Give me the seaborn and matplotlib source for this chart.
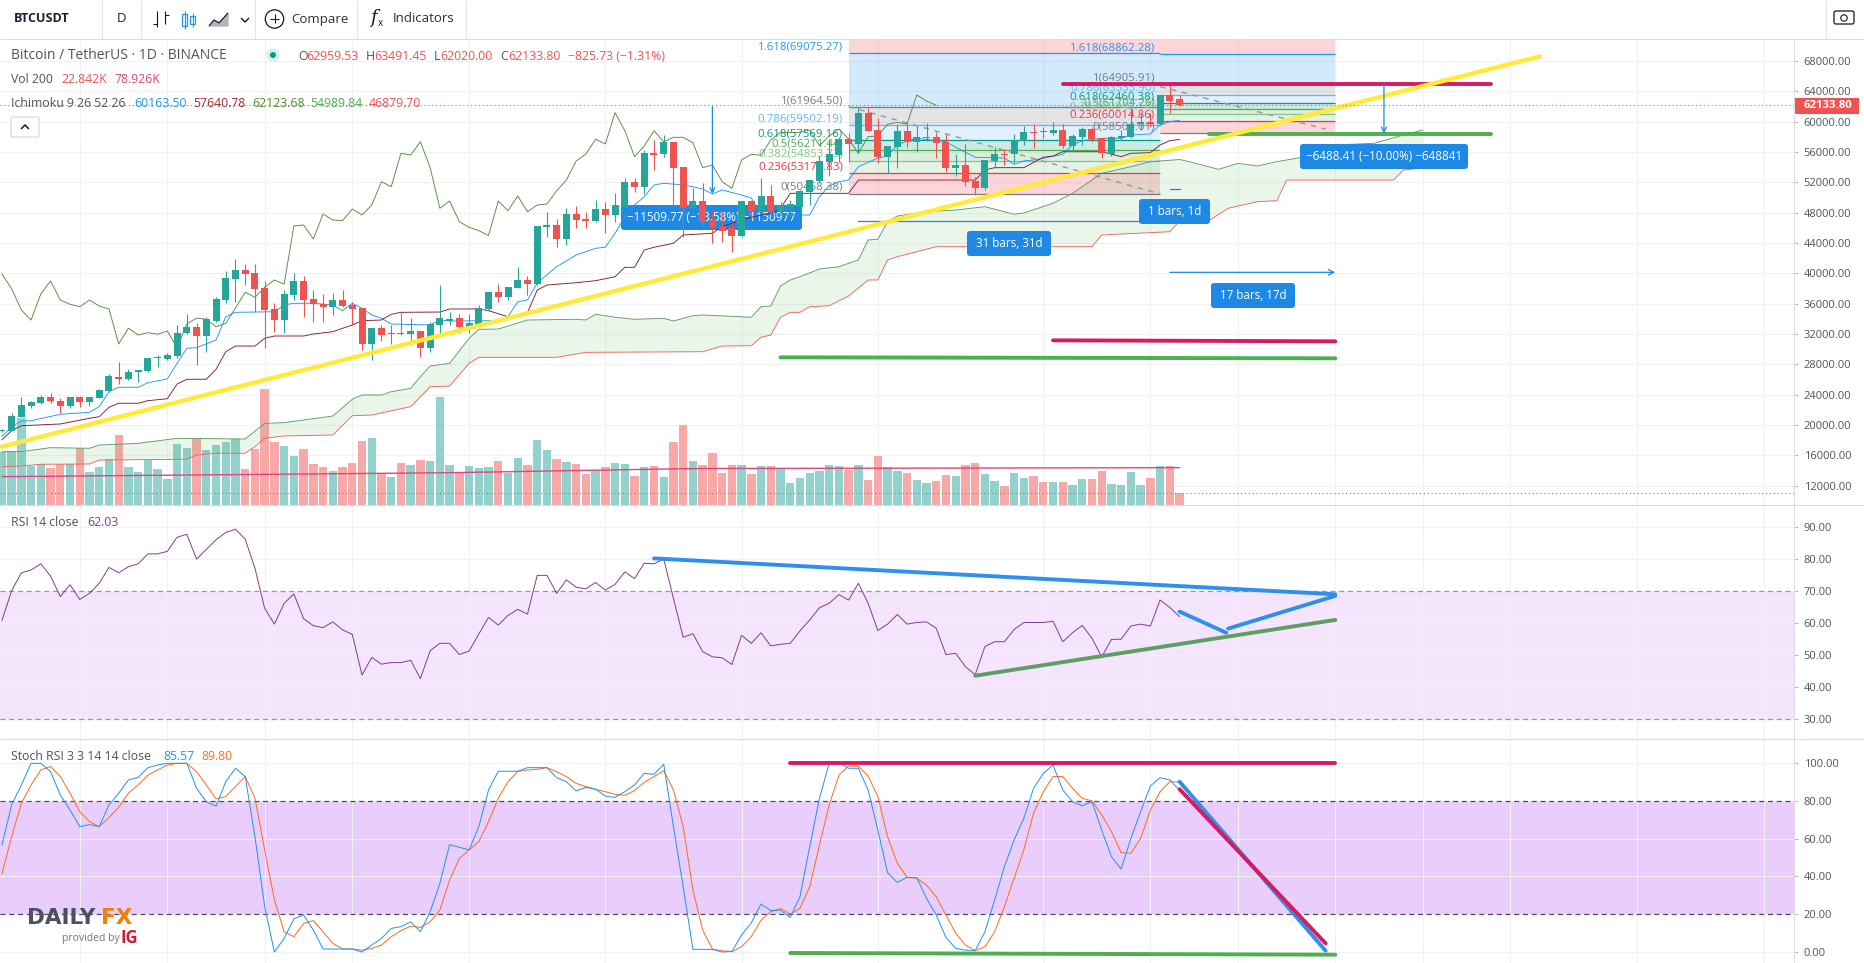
import numpy as np
import matplotlib
matplotlib.use("Agg")
import matplotlib.pyplot as plt
from matplotlib.patches import FancyBboxPatch, Circle, Rectangle
import seaborn as sns

# ---------- candles (thousand USDT) ----------
opens = [19.23,19.27,21.11,22.52,22.95,23.67,23.22,22.56,23.67,23.09,
23.61,24.53,26.38,26.08,26.96,27.17,28.8,28.71,29.1,32.09,
32.93,31.74,33.76,36.49,39.21,40.44,40.04,38.07,35.3,33.85,
37.14,38.99,36.58,35.96,35.6,36.49,35.83,35.43,30.69,32.76,
31.97,32.18,32.04,32.4,30.16,33.19,33.76,34.07,32.97,33.32,
35.3,37.5,36.84,38.07,39.12,38.59,46.06,46.37,44.52,47.81,
47.16,46.89,48.47,47.68,48.78,51.99,51.41,55.81,55.68,57.34,
53.97,48.57,49.53,47.03,46.27,45.93,44.96,49.53,48.12,50.19,
48.21,48.74,48.7,50.75,52.2,54.7,55.59,57.7,57.04,61.08,
58.88,55.37,56.68,58.75,57.34,57.79,57.92,57.34,53.92,54.27,
52.16,51.2,54.84,55.68,55.68,57.43,58.66,58.66,58.53,58.88,
56.81,58,59,57.79,55.72,57.79,58,59.63,59.9,59.67,
63.49,62.96]
highs = [19.5,21.56,23.67,23.22,23.97,24.19,23.53,23.67,23.84,23.67,
24.72,26.74,28.36,27.36,27.26,28.8,29.24,29.46,33.19,34.64,
33.41,34.2,36.84,40.34,41.89,41.23,41.23,38.99,36.09,37.8,
40.04,39.65,37.8,37.28,37.41,37.8,36.26,35.43,32.8,33.19,
33.19,34.73,34.07,32.4,33.63,38.46,34.94,34.64,34.64,35.83,
37.54,38.59,38.24,40.87,39.65,46.23,48.12,47.12,48.57,48.87,
48.12,49.66,49.44,50.54,52.52,52.52,56.25,57.56,58.22,57.34,
54.01,51.2,51.86,48.34,48.25,46.67,49.53,49.66,52.52,51.64,
49.4,49.66,50.98,52.29,55.46,57.66,58,58.45,61.96,61.74,
60.42,56.77,59.54,59.98,59.41,59.84,58.66,58.36,55.72,57.04,
52.73,54.93,56.6,56.38,58.36,59.41,59.67,59.32,59.98,59.67,
58.32,59.24,59.32,57.83,58.09,58.88,61.74,61.16,61.08,63.49,
64.81,63.49]
lows = [19.1,19.27,21.03,22.22,22.78,22.95,21.64,22.22,22.35,22.52,
23.53,24.4,25.42,25.94,25.72,27.04,27.62,28.58,28.8,31.97,
27.92,29.67,33.63,36.13,36.26,38.46,34.94,30.2,32.27,32.14,
36.49,34.28,33.63,33.63,34.51,35.6,33.19,29.9,28.58,31.12,
30.69,31.87,30.56,29.02,29.67,31.74,33.19,32.14,32.18,33.19,
35.08,36.26,36.49,38.07,37.14,38.46,44.82,43.51,43.73,45.93,
45.93,46.8,45.35,46.8,48.78,50.75,50.45,53.61,55.28,49,
44.82,47.68,46.37,43.96,44.17,42.85,44.82,47.46,47.95,47.95,
47.95,47.95,47.9,49,51.9,52.82,54.7,54.7,55.81,58.79,
54.49,53.18,53.88,56.68,56.02,57.43,55.23,53.39,52.86,51.54,
50.32,50.98,53.84,54.27,54.57,56.91,56.55,57.79,58.22,56.47,
56.02,56.91,57.26,55.23,55.46,57.56,57.79,58.88,59.32,59.54,
61.08,62.02]
closes = [19.36,21.2,22.6,23.05,23.67,23.22,22.56,23.67,23.09,23.67,
24.63,26.47,26.08,26.96,27.26,28.8,28.93,29.24,32.09,32.93,
31.74,33.94,36.62,39.38,40.44,39.91,37.97,35.17,33.85,37.28,
38.99,36.49,35.92,35.6,36.49,35.69,35.3,30.69,32.76,31.87,
32.18,31.97,32.4,30.2,33.32,34.11,33.94,32.97,33.41,35.43,
37.5,36.84,38.16,39.12,38.59,46.23,46.37,44.52,47.81,47.03,
46.93,48.47,47.68,49,52.07,51.41,55.81,55.59,57.34,53.92,
48.57,49.53,46.8,46.06,45.62,44.96,49.53,48.25,50.19,48.12,
49,49.13,50.88,52.29,54.8,55.72,57.66,57.04,61.16,58.79,
55.37,56.77,58.79,57.34,57.92,57.92,57.21,53.92,54.27,52.07,
51.2,54.93,55.68,55.55,57.56,58.58,58.53,58.58,58.88,56.81,
58.09,59,57.7,55.81,58,58.09,59.63,59.9,59.67,63.49,
62.7,62.13]

# ---------- volume (thousand) ----------
volume = [102,103,167,74,78,71,79,79,109,63,
73,88,134,73,63,86,69,50,117,109,
126,105,115,120,126,69,107,221,120,113,
94,107,79,73,65,73,81,122,128,60,
54,81,77,86,84,206,77,63,75,71,
73,84,61,90,77,124,105,88,82,79,
60,67,73,81,79,56,73,75,54,120,
153,84,77,100,61,77,77,60,75,75,
71,42,52,61,65,77,75,67,77,48,
94,73,65,61,48,42,46,58,56,77,
81,60,46,37,61,52,56,44,44,44,
39,50,50,65,41,39,63,39,52,75,
75,22.84]
vol_ma_bar = [0, 40, 46, 68, 72, 121]
vol_ma_val = [54.5, 61, 62, 69, 70, 71.6]

# ---------- Ichimoku (thousand USDT) ----------
tenkan_bar = [0,1,2,3,6,9,10,11,12,14,15,17,18,19,20,22,23,24,28,29,30,32,34,35,36,37,38,39,40,44,45,46,51,52,53,54,55,57,59,61,62,63,64,65,66,67,68,70,71,72,73,74,76,77,78,83,84,85,86,87,88,90,91,92,93,94,97,98,100,103,104,105,106,107,109,110,111,113,115,116,118,119,120,121]
tenkan_val = [18.47,19.79,20.54,20.58,21.43,21.69,22.43,24.4,24.98,24.98,25.59,26.08,28.14,30.12,30.2,31.2,34.28,34.86,34.94,35.83,36.05,36.05,35.83,35.08,36.05,35.39,34.51,34.07,33.32,33.19,33.85,33.72,33.76,34.28,36.26,36.49,38.73,40.87,42.41,43.3,43.43,45.27,47.46,49,50.09,51.64,51.86,51.64,51.41,51.11,50.45,50.98,50.32,49.92,47.68,47.68,50.09,51.5,52.07,52.29,54.05,55.19,55.46,56.91,57.43,57.79,57.34,56.6,55.29,55.19,54.36,54.8,54.93,55.15,55.68,56.91,57.47,57.79,57.79,58.22,58.36,59.54,59.98,60.16]
kijun_bar = [0,1,2,6,9,10,11,12,14,15,17,18,19,21,22,23,24,26,27,28,31,32,34,36,37,39,40,41,45,46,49,50,52,54,55,56,59,61,63,64,65,66,67,69,70,73,74,76,77,78,79,80,81,87,88,100,101,102,105,107,108,109,113,115,116,118,119,120,121]
kijun_val = [18.04,19.27,19.92,20.15,20.9,21.11,22.35,22.88,22.88,23.22,23.48,25.42,26.04,26.04,27.35,29.67,30.42,30.42,31.44,31.74,31.74,32,32.31,33.19,33.76,33.85,34.6,34.86,34.9,35.3,35.3,35.08,34.28,34.81,37.8,38.46,38.76,39.03,39.55,40.79,40.79,43.07,43.43,43.96,45.05,45.27,46.14,47.03,47.38,47.68,47.9,48.57,50.54,50.54,52.29,52.29,53.61,53.92,53.92,55.29,55.46,56.02,56.02,55.37,55.81,55.89,56.91,57.47,57.64]
span_a_bar = [0,2,5,9,10,14,18,25,27,29,34,36,37,39,40,42,43,44,46,48,49,51,54,59,60,61,63,65,68,69,71,72,77,78,79,80,81,82,84,86,87,88,89,90,91,92,95,98,101,104,105,108,110,111,113,116,118,121,122,125,127,129,131,134,137,141,144,146]
span_a_val = [16.5,16.5,17.03,16.95,17.38,17.6,18.26,18.17,20.24,20.32,21.2,23.4,23.97,23.97,24.4,24.85,26.38,27.79,28.14,31.44,32.62,32.66,33.85,33.94,33.85,34.6,34.21,33.94,34.07,33.72,34.42,34.51,34.21,35.6,35.69,38.33,39.12,39.55,40.57,40.87,41.32,41.76,44.39,44.48,46.8,47.55,48.12,48.34,48.78,47.78,47.95,49.23,50.54,51.41,53.18,54.05,54.71,54.99,54.71,53.7,54.49,54.14,54.71,55.37,56.91,57.13,58.22,58.88]
span_b_bar = [0,2,4,9,10,19,20,22,25,26,27,29,34,36,38,42,44,46,48,49,57,60,72,74,77,78,79,80,81,82,83,85,87,89,90,91,92,96,112,113,120,121,124,126,129,131,132,143,144,146]
span_b_val = [14.52,14.61,14.84,14.88,15.4,15.5,16.06,16.29,16.29,17.16,18.26,18.57,18.7,21.24,21.33,22.43,25.06,25.15,28.14,28.93,28.93,29.59,29.67,30.42,30.46,31.57,31.87,34.21,34.86,34.86,35.6,35.73,37.01,39.12,39.12,41.76,42.19,43.51,43.51,45.05,45.48,46.88,46.93,48.57,49.44,49.57,52.29,52.29,53.61,53.88]

# ---------- oscillators ----------
rsi = [60.8,70.1,75.7,76.6,78.5,74.7,68.3,72,67.4,69.3,
72.4,77.4,75.7,77.6,78.5,81.6,81.6,82.4,86.8,87.7,
80,83,86,88.3,89.3,86.2,77.1,64.6,59.7,66.2,
69.1,61.4,59.2,58.6,60.4,57.9,56.5,43.8,49.3,47.2,
47.7,47.7,48.4,42.7,51.4,53.7,53.7,50.2,51.3,56.6,
61.8,59.4,62.4,64.3,62.8,74.9,74.9,69.3,73.5,71.2,
70.7,72.7,70.3,72.1,76,73.9,78.7,78.5,80,67.7,
55.6,56.7,51.1,49.5,49.2,47.1,56.2,53.7,57,52.9,
53.4,53.7,57.6,61,64.8,66.2,68.9,67.2,72.4,66.2,
57.7,59.7,62.7,59.7,60.2,60.4,58.4,50.2,50.6,46.4,
43.9,52.7,54.2,54.2,58,60.2,60.2,60.2,60.6,54.2,
57,59.3,55.3,49.5,54.9,55,59.1,59.7,59.1,67.2,
64.9,62.03]
stoch_k = [56.6,77.8,88.4,99.8,99.8,95.4,83.1,75.1,66.3,67.4,
66.3,77.8,84,91,92.4,97.5,98.9,99.8,99.8,99.8,
86.6,79.5,77.1,90.1,97.2,92.8,61,24,0,7.2,
17.6,19.6,11.6,1.6,1.6,1.6,1.6,0,3.7,7.2,
12.5,13.4,16,10.7,21.3,36.3,56.8,55.4,54,66.3,
85.7,95.6,95.6,95.6,97.5,97.5,97.5,92.2,90.1,85.2,
87.1,86.1,82.5,81.8,84.8,88.4,94.5,94,99.3,66.3,
34.5,1.4,1.4,1.4,0,0.3,9,15.5,25.4,21.9,
22.2,18.3,29.3,55.7,81.3,99.8,100,97.2,97.2,85.7,
64.5,42,36.8,39.5,39.3,28.4,19.6,7.7,1.9,1,
0.7,10.7,27.5,45.1,59.3,70.7,86.6,94.5,98.9,85.7,
79.5,77.4,79.5,64.5,50.4,43.9,60.1,74.2,87.8,92.2,
91,85.57]
stoch_d = [41.3,61,78.7,88.4,96.3,98.1,92.8,84,74.2,69,
66.3,71.2,76.5,84,88.4,93.6,96.3,98.9,99.8,99.8,
95.4,88.4,81,82.2,87.5,92.8,81.3,54,27.5,10.7,
8.1,15.1,16.6,10.7,4.6,1.6,1.6,1,1.9,3.7,
8.1,11.3,13.7,13,16,22.2,38.1,49.5,54,58.4,
69,81.3,90.1,95.4,96.3,96.6,97.5,95.4,92.8,89.2,
87.5,86.1,84.8,83.4,82.9,85.4,89.8,92.8,95.9,85.7,
66.3,32.8,11.6,1.6,0.7,0.2,2.8,8.1,16.9,21.3,
23.1,20.1,23.1,34.6,56.6,77.8,93.6,98.4,98.1,93.1,
82.2,61,46.9,39.5,39,35.4,29.2,19.6,9.9,3.7,
0.7,2.8,10.7,24,39,54,73.4,84.8,92.8,92.8,
86.6,81.3,79.9,72.5,63.7,52.6,52.2,60.1,75.1,84.8,
90.1,89.8]

# ---------- drawing tools ----------
fib_ratios = [1.618, 1, 0.786, 0.618, 0.5, 0.382, 0.236, 0]
fib_a_prices = [69075.27, 61964.50, 59502.19, 57569.16, 56211.44, 54853.73, 53173.83, 50458.38]
fib_b_prices = [68862.28, 64905.91, 63535.90, 62460.38, 61704.26, 60948.14, 60014.86, 58504.01]
fib_a_bars = [87, 119]
fib_b_bars = [119, 137]
fib_colors = ["#2196f3", "#787b86", "#64b5f6", "#089981", "#4caf50", "#81c784", "#f23645", "#787b86"]
fib_a_text_y = [46.7, 101, 118.7, 134, 144, 154, 166.7, 187.3]
fib_b_text_y = [47.7, 77.7, 88, 96.7, 102.7, 106.7, 115, 126.7]
hline_price_ticks = list(range(12000, 68001, 4000))
rsi_ticks = [30, 40, 50, 60, 70, 80, 90]
stoch_ticks = [0, 20, 40, 60, 80, 100]
grid_bars = [8, 17, 27, 36, 48, 62, 76, 90, 107, 118, 127, 137, 146, 155, 168, 181]

W, H = 1864, 963
AX_R = 1794
P_TOP, P_BOT, R_BOT = 38.7, 505.5, 739.5
XMIN, XMAX = -0.195, 184.13
GRID = "#eff1f4"
SEP = "#d8dce3"
GREEN, RED = "#26a69a", "#ef5350"
TXT = "#50535e"

sns.set_theme(style="white")
plt.rcParams["font.family"] = ["Open Sans", "DejaVu Sans"]
fig = plt.figure(figsize=(W / 100, H / 100), dpi=100, facecolor="white")


def pane(y0, y1, z):
    a = fig.add_axes([0, 1 - y1 / H, AX_R / W, (y1 - y0) / H], zorder=z)
    a.set_xlim(XMIN, XMAX)
    for s in a.spines.values():
        s.set_visible(False)
    return a


def line(a, x, y, color, lw=0.65, z=3, **kw):
    sns.lineplot(x=np.asarray(x, float), y=np.asarray(y, float), ax=a, color=color, linewidth=lw,
                 zorder=z, estimator=None, sort=False, legend=False, errorbar=None, **kw)


def finish(a, ylim, ticks, fmt="{:.2f}"):
    a.set_xlim(XMIN, XMAX)
    a.set_ylim(*ylim)
    a.set_xlabel("")
    a.set_ylabel("")
    a.set_xticks(grid_bars)
    a.set_xticklabels([])
    a.yaxis.tick_right()
    a.set_yticks(ticks)
    a.set_yticklabels([fmt.format(t) for t in ticks])
    a.tick_params(axis="y", length=3, width=0.7, color="#b2b5be", labelsize=8, labelcolor=TXT, pad=4, right=True)
    a.tick_params(axis="x", length=0)
    a.grid(True, color=GRID, linewidth=0.8)
    a.set_axisbelow(True)


price_lim = (9410, 70910)
bar_index = np.arange(len(closes))
O, Hi, Lo, C = [np.array(v) * 1000 for v in (opens, highs, lows, closes)]
up = C >= O

# grid layer
ax_grid = pane(P_TOP, P_BOT, 0)
finish(ax_grid, price_lim, hline_price_ticks)
ax_grid.tick_params(axis="y", labelright=False, length=0)

# volume layer
ax_vol = pane(P_TOP, P_BOT, 1)
ax_vol.patch.set_visible(False)
sns.barplot(x=bar_index, y=volume, hue=np.where(up, "up", "down"), ax=ax_vol, native_scale=True,
            palette={"up": "#93d2cc", "down": "#f8a9a7"}, dodge=False, width=0.86, saturation=1,
            errorbar=None, legend=False, linewidth=0)
line(ax_vol, vol_ma_bar, vol_ma_val, "#e0457f", lw=1.0, z=4)
ax_vol.axhline(volume[-1], color=RED, lw=0.8, ls=(0, (1, 2.5)), zorder=5)
ax_vol.set_xlim(XMIN, XMAX)
ax_vol.set_ylim(-0.4, 888)
ax_vol.set_xticks([])
ax_vol.set_yticks([])
ax_vol.set_xlabel("")
ax_vol.set_ylabel("")

# price layer
ax_p = pane(P_TOP, P_BOT, 2)
ax_p.patch.set_visible(False)

# UI overlay (pixel coordinates)
ax_ui = fig.add_axes([0, 0, 1, 1], zorder=10)
ax_ui.set_xlim(0, W)
ax_ui.set_ylim(H, 0)
ax_ui.axis("off")
ax_ui.patch.set_visible(False)


def box(a, x0, y0, x1, y1, text, z=8):
    a.add_patch(FancyBboxPatch((x0, y0), x1 - x0, y1 - y0, boxstyle="round,pad=0,rounding_size=3",
                               fc="#1e88e5", ec="none", transform=ax_ui.transData, zorder=z, clip_on=False))
    a.text((x0 + x1) / 2, (y0 + y1) / 2, text, color="white", fontsize=8.4, ha="center", va="center",
           transform=ax_ui.transData, zorder=z + 0.1, clip_on=False)


# fib backgrounds
def fib(a_bars, prices, colors):
    xs = a_bars
    ax_p.fill_between(xs, [prices[0]] * 2, [price_lim[1]] * 2, color="#f23645", alpha=0.2, lw=0, zorder=1)
    for k in range(len(prices) - 1):
        ax_p.fill_between(xs, [prices[k + 1]] * 2, [prices[k]] * 2, color=colors[k], alpha=0.2, lw=0, zorder=1)
    for p, c in zip(prices, colors):
        ax_p.hlines(p, xs[0], xs[1], color=c, lw=0.9, zorder=1.5)


fib(fib_a_bars, fib_a_prices, fib_colors)
fib(fib_b_bars, fib_b_prices, fib_colors)
line(ax_p, fib_a_bars, [fib_a_prices[1], fib_a_prices[-1]], "#9598a1", lw=1, z=1.6, linestyle=(0, (4, 4)))
line(ax_p, fib_b_bars[0:1] + [136], [64600, 59000], "#9598a1", lw=1, z=1.6, linestyle=(0, (4, 4)))

for r, p, c, ty in zip(fib_ratios, fib_a_prices, fib_colors, fib_a_text_y):
    ax_p.text(843, ty, f"{r:g}({p:.2f})", color=c, fontsize=8.2, ha="right", va="center",
              transform=ax_ui.transData, zorder=2, clip_on=False)
for r, p, c, ty in zip(fib_ratios, fib_b_prices, fib_colors, fib_b_text_y):
    ax_p.text(1155, ty, f"{r:g}({p:.2f})", color=c, fontsize=8.2, ha="right", va="center",
              transform=ax_ui.transData, zorder=2, clip_on=False)

# cloud
ax_p.fill(np.r_[span_a_bar, span_b_bar[::-1]],
          np.r_[span_a_val, span_b_val[::-1]] * 1000,
          color="#4caf50", alpha=0.11, lw=0, zorder=1.2)
line(ax_p, span_a_bar, np.array(span_a_val) * 1000, "#5f9e63", z=3)
line(ax_p, span_b_bar, np.array(span_b_val) * 1000, "#ef6461", z=3)
line(ax_p, bar_index[:len(closes) - 25], C[25:], "#568a3a", z=3)
line(ax_p, tenkan_bar, np.array(tenkan_val) * 1000, "#2196f3", z=3)
line(ax_p, kijun_bar, np.array(kijun_val) * 1000, "#7f1d2d", z=3)

# measuring label below the candles
box(ax_p, 621, 205, 802, 230, "−11509.77 (−18.58%) −1150977", z=2.5)
ax_p.annotate("", xy=(73, 50450), xytext=(73, 61964), zorder=2.6,
              arrowprops=dict(arrowstyle="->", color="#1e88e5", lw=0.9, shrinkA=0, shrinkB=0, mutation_scale=9))

# candles
col = np.where(up, GREEN, RED)
ax_p.vlines(bar_index, Lo, Hi, colors=col, lw=0.8, zorder=4)
ax_p.bar(bar_index, np.maximum(np.abs(C - O), 120), bottom=np.minimum(O, C), width=0.72, color=col, lw=0, zorder=4.1)

# trend lines on price
line(ax_p, [0, 158], [17160, 68570], "#ffe93b", lw=3.2, z=5)
line(ax_p, [109, 153], [64905, 64905], "#d81b60", lw=2.8, z=4.8)
line(ax_p, [124, 153], [58420, 58420], "#4caf50", lw=2.8, z=4.8)
line(ax_p, [108, 137], [31170, 31040], "#d81b60", lw=2.8, z=4.8)
line(ax_p, [80, 137], [28930, 28800], "#4caf50", lw=2.8, z=4.8)
ax_p.annotate("", xy=(142, 58417), xytext=(142, 64905), zorder=5.5,
              arrowprops=dict(arrowstyle="->", color="#1e88e5", lw=0.9, shrinkA=0, shrinkB=0, mutation_scale=9))
line(ax_p, [88, 119], [46850, 46850], "#1e88e5", lw=0.9, z=3.5)
line(ax_p, [120, 121], [51100, 51100], "#1e88e5", lw=0.9, z=3.5)
ax_p.annotate("", xy=(137, 40130), xytext=(120, 40130), zorder=5.5,
              arrowprops=dict(arrowstyle="->", color="#1e88e5", lw=0.9, shrinkA=0, shrinkB=0, mutation_scale=10))
box(ax_p, 967, 231, 1051, 256, "31 bars, 31d")
box(ax_p, 1139, 199, 1210, 224, "1 bars, 1d")
box(ax_p, 1211, 283, 1295, 308, "17 bars, 17d")
box(ax_p, 1300, 144, 1468, 169, "−6488.41 (−10.00%) −648841")
ax_p.axhline(closes[-1] * 1000 + 3.8, color=RED, lw=0.8, ls=(0, (1, 2.5)), zorder=6)
finish(ax_p, price_lim, hline_price_ticks)
ax_p.grid(False)

# RSI
ax_r = pane(P_BOT, R_BOT, 2)
ax_r.axhspan(30, 70, color="#f4e5fd", lw=0, zorder=0)
for lv in (70, 30):
    ax_r.axhline(lv, color="#a58bab", lw=0.9, ls=(0, (4, 3)), zorder=1)
line(ax_r, bar_index, rsi, "#803a9c", lw=0.7, z=3)
line(ax_r, [67, 137], [80.2, 69], "#2e90ea", lw=2.8, z=4)
line(ax_r, [121, 125.8], [63.6, 57], "#2e90ea", lw=2.8, z=4)
line(ax_r, [126, 137], [58.3, 68.5], "#2e90ea", lw=2.8, z=4)
line(ax_r, [100, 137], [43.6, 61], "#5f9e63", lw=2.8, z=4)
finish(ax_r, (23.7, 96.7), rsi_ticks)

# Stoch RSI
ax_s = pane(R_BOT, H, 2)
ax_s.axhspan(20, 80, color="#e9cdfd", lw=0, zorder=0)
for lv in (80, 20):
    ax_s.axhline(lv, color="#4f4a58", lw=0.9, ls=(0, (4, 3)), zorder=1)
line(ax_s, bar_index, stoch_d, "#ff6d1f", lw=0.72, z=3)
line(ax_s, bar_index, stoch_k, "#2196f3", lw=0.72, z=3.1)
line(ax_s, [81, 137], [100, 100], "#d81b60", lw=2.8, z=4)
line(ax_s, [81, 137], [-0.5, -1.4], "#4caf50", lw=2.8, z=4)
line(ax_s, [121, 136], [90.1, 0.7], "#2e90ea", lw=2.8, z=4)
line(ax_s, [121, 136], [86.1, 4.6], "#d81b60", lw=2.8, z=4.1)
finish(ax_s, (-5.8, 112.4), stoch_ticks)


# ---------- chrome, legends, logo ----------
def T(x, y, s, c=TXT, fs=9, **kw):
    kw.setdefault("va", "center")
    ax_ui.text(x, y, s, color=c, fontsize=fs, **kw)


def L(xs, ys, c=SEP, lw=0.8, **kw):
    ax_ui.plot(xs, ys, color=c, lw=lw, solid_capstyle="butt", **kw)


L([0, W], [P_TOP, P_TOP])
L([0, W], [P_BOT, P_BOT])
L([0, W], [R_BOT, R_BOT])
L([AX_R, AX_R], [P_TOP, H])
for x in (102, 141, 255, 357, 466, 1826):
    L([x, x], [0, P_TOP], c="#e3e5ea")

T(14, 19, "BTCUSDT", "#1c2030", 9, fontweight="bold")
T(117, 19, "D", "#1c2030", 9.5)
# bar style icons
L([157, 157], [11, 27], "#131722"); L([153, 157], [24, 24], "#131722"); L([165, 165], [11, 24], "#131722"); L([165, 169], [15, 15], "#131722")
for x0, y0, h in ((182, 14, 12), (190, 16, 8)):
    ax_ui.add_patch(Rectangle((x0, y0), 5, h, fc="none", ec="#2196f3", lw=0.9))
    L([x0 + 2.5, x0 + 2.5], [y0 - 3, y0 + h + 3], "#2196f3")
L([209, 214, 219, 228], [26, 20, 23, 13], "#131722")
ax_ui.fill([209, 214, 219, 228, 228, 209], [26, 20, 23, 13, 26, 26], color="#b2b5be")
L([241, 245, 249], [18, 22, 18], "#131722", lw=1)
ax_ui.add_patch(Circle((274.5, 19), 9.2, fc="none", ec="#131722", lw=0.9))
L([270, 279], [19, 19], "#131722"); L([274.5, 274.5], [14.5, 23.5], "#131722")
T(291, 19, "Compare", "#2b2f3d", 9.5)
T(370, 18, "f", "#131722", 13, style="italic", fontfamily="DejaVu Serif")
T(378, 24, "x", "#131722", 7)
T(393, 19, "Indicators", "#2b2f3d", 9.5)
ax_ui.add_patch(FancyBboxPatch((1834, 11), 20, 13, boxstyle="round,pad=0,rounding_size=2", fc="none", ec="#131722", lw=0.9))
ax_ui.add_patch(Circle((1844, 18), 3.2, fc="none", ec="#131722", lw=0.8))

T(11, 55.5, "Bitcoin / TetherUS · 1D · BINANCE", TXT, 10)
ax_ui.add_patch(Circle((273, 55), 6.5, fc="#d5f0ed", ec="none"))
ax_ui.add_patch(Circle((273, 55), 3, fc="#089981", ec="none"))
for x, lab, val in ((298, "O", "62959.53"), (366, "H", "63491.45"), (434, "L", "62020.00"), (500, "C", "62133.80")):
    T(x, 56, lab, TXT, 8.8)
    T(x + (8 if lab != "L" else 6), 56, val, RED, 8.8)
T(568, 56, "−825.73 (−1.31%)", RED, 8.8)
T(11, 79.5, "Vol 200", TXT, 8.8)
T(61.6, 79.5, "22.842K", RED, 8.8)
T(114.7, 79.5, "78.926K", "#e0457f", 8.8)
T(11, 103.7, "Ichimoku 9 26 52 26", TXT, 8.8)
for x, v, c in ((134.4, "60163.50", "#2196f3"), (193.3, "57640.78", "#a22a3a"), (251.8, "62123.68", "#4b8c2e"),
                (310.3, "54989.84", "#4caf50"), (368.8, "46879.70", RED)):
    T(x, 103.7, v, c, 8.8)
ax_ui.add_patch(FancyBboxPatch((11, 117), 28, 20, boxstyle="round,pad=0,rounding_size=2", fc="white", ec="#d1d4dc", lw=0.8))
L([21, 25, 29], [129, 125, 129], "#131722", lw=1.1)

T(11, 522.7, "RSI 14 close", TXT, 8.8)
T(87, 522.7, "62.03", "#803a9c", 8.8)
T(11, 756.7, "Stoch RSI 3 3 14 14 close", TXT, 8.8)
T(163, 756.7, "85.57", "#2196f3", 8.8)
T(201, 756.7, "89.80", "#ff6d1f", 8.8)

# last price tag
ax_ui.add_patch(Rectangle((1794, 98), 65, 16, fc=RED, ec="none"))
T(1804, 106, "62133.80", "white", 8.2, fontweight="bold")

# DailyFX logo
T(27, 918, "DAILY", "#4a5160", 15.5, fontweight="bold", fontfamily="DejaVu Sans")
T(101, 918, "FX", "#f97c00", 15.5, fontweight="bold", fontfamily="DejaVu Sans")
T(62, 938, "provided by", "#6f7480", 7.5)
T(121, 938, "IG", "#d5192c", 12, fontweight="bold")

fig.savefig("out.png", dpi=100)
